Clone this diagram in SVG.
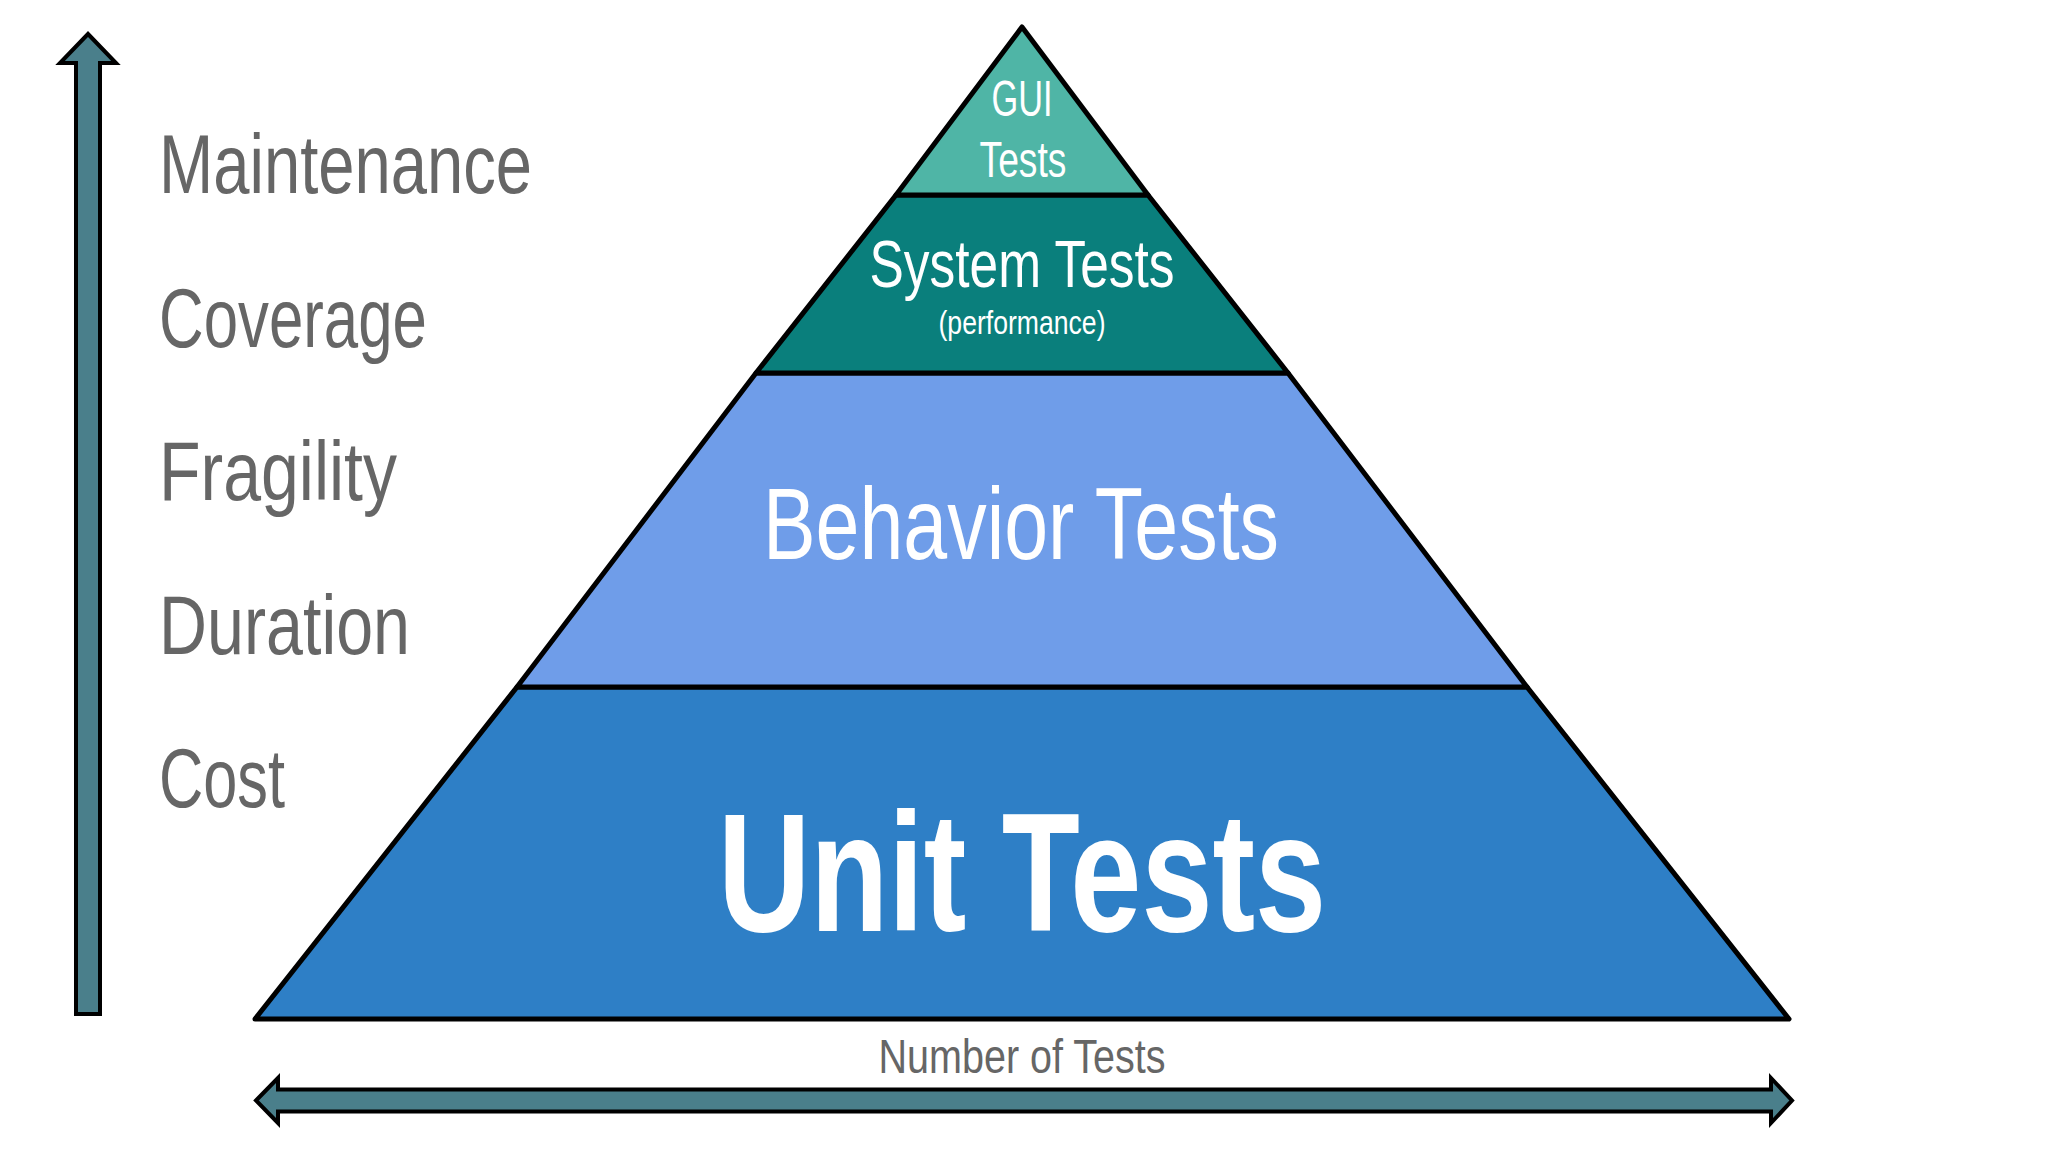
<svg xmlns="http://www.w3.org/2000/svg" width="2048" height="1152" viewBox="0 0 2048 1152">
  <style>
    .side { font-family: "Liberation Sans Narrow", "Liberation Sans", "DejaVu Sans Condensed", sans-serif; font-size: 84px; fill: #666666; }
    .lbl { font-family: "Liberation Sans Narrow", "Liberation Sans", "DejaVu Sans Condensed", sans-serif; fill: #ffffff; text-anchor: middle; }
    .band { stroke: #000000; stroke-width: 5; stroke-linejoin: round; }
    .arrow { fill: #4A7F8B; stroke: #000000; stroke-width: 4; stroke-linejoin: miter; }
  </style>
  <rect width="2048" height="1152" fill="#ffffff"/>

  <g id="connectors">
    <path id="vertical-arrow" class="arrow" d="M76,1014 L76,63 L60,63 L88,34 L116,63 L100,63 L100,1014 Z"/>
    <path id="horizontal-arrow" class="arrow" d="M256,1100.5 L278,1078 L278,1089.5 L1771,1089.5 L1771,1078 L1792,1100.5 L1771,1123 L1771,1111.5 L278,1111.5 L278,1123 Z"/>
  </g>

  <g id="side-labels">
    <text id="lbl-maintenance" class="side" x="159" y="193" textLength="373" lengthAdjust="spacingAndGlyphs">Maintenance</text>
    <text id="lbl-coverage" class="side" x="159" y="347" textLength="268" lengthAdjust="spacingAndGlyphs">Coverage</text>
    <text id="lbl-fragility" class="side" x="159" y="500" textLength="238" lengthAdjust="spacingAndGlyphs">Fragility</text>
    <text id="lbl-duration" class="side" x="159" y="654" textLength="251" lengthAdjust="spacingAndGlyphs">Duration</text>
    <text id="lbl-cost" class="side" x="159" y="807" textLength="126" lengthAdjust="spacingAndGlyphs">Cost</text>
  </g>

  <g id="unit-tests">
    <polygon class="band" fill="#2E7FC6" points="517,687 1527,687 1789,1019 255,1019"/>
    <text class="lbl" x="1022" y="931" font-size="168" font-weight="bold" textLength="608" lengthAdjust="spacingAndGlyphs">Unit Tests</text>
  </g>

  <g id="behavior-tests">
    <polygon class="band" fill="#6F9DE9" points="756,373 1288,373 1527,687 517,687"/>
    <text class="lbl" x="1021" y="559" font-size="102" textLength="516" lengthAdjust="spacingAndGlyphs">Behavior Tests</text>
  </g>

  <g id="system-tests">
    <polygon class="band" fill="#0A7F7C" points="896,195 1148,195 1288,373 756,373"/>
    <text class="lbl" x="1022" y="287" font-size="66" textLength="305" lengthAdjust="spacingAndGlyphs">System Tests</text>
    <text class="lbl" x="1022" y="334" font-size="33" textLength="167" lengthAdjust="spacingAndGlyphs">(performance)</text>
  </g>

  <g id="gui-tests">
    <polygon class="band" fill="#4FB5A6" points="1022,27 1148,195 896,195"/>
    <text class="lbl" x="1022" y="116" font-size="50" textLength="61" lengthAdjust="spacingAndGlyphs">GUI</text>
    <text class="lbl" x="1023" y="177" font-size="50" textLength="87" lengthAdjust="spacingAndGlyphs">Tests</text>
  </g>

  <g id="axis-label">
    <text id="lbl-number" x="1022" y="1073" font-family="Liberation Sans Narrow, Liberation Sans, sans-serif" font-size="49" fill="#666666" text-anchor="middle" textLength="287" lengthAdjust="spacingAndGlyphs">Number of Tests</text>
  </g>
</svg>
